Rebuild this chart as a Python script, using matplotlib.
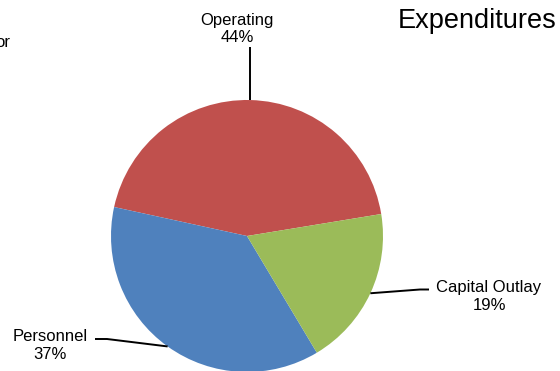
import matplotlib

matplotlib.use("Agg")
import matplotlib.pyplot as plt
import numpy as np

plt.rcParams["font.family"] = ["Liberation Sans", "DejaVu Sans"]

categories = ["Operating", "Personnel", "Capital Outlay"]
shares = [44, 37, 19]
colors = ["#C0504D", "#4F81BD", "#9BBB59"]

W, H = 560, 371
fig = plt.figure(figsize=(W / 100, H / 100), dpi=100)
ax = fig.add_axes([0, 0, 1, 1])

cx, cy, r = 247, H - 236, 136
wedges, _ = ax.pie(shares, colors=colors, startangle=9.3, counterclock=True,
                   center=(cx, cy), radius=r, frame=True,
                   wedgeprops=dict(linewidth=0))
ax.set_xlim(0, W)
ax.set_ylim(0, H)
ax.set_aspect("equal")
ax.axis("off")

# label placement in pixel units from the top-left: text centre x,
# baselines of the two lines, and the bends of the leader line
label_pos = {
    "Operating": dict(x=237, base=(25, 42), path=[(250, 47)]),
    "Capital Outlay": dict(x=489, base=(292, 310),
                           path=[(420, 289.5), (429, 289.5)]),
    "Personnel": dict(x=50, base=(341, 359),
                      path=[(107, 339), (95, 339)]),
}

for w, name, val in zip(wedges, categories, shares):
    mid = np.deg2rad((w.theta1 + w.theta2) / 2)
    ex, ey = cx + r * np.cos(mid), cy + r * np.sin(mid)
    lp = label_pos[name]
    pts = [(ex, ey)] + [(px, H - py) for px, py in lp["path"]]
    if name == "Operating":
        pts[0] = (lp["path"][0][0], ey)
    xs, ys = zip(*pts)
    ax.plot(xs, ys, color="black", lw=1.4, solid_capstyle="butt", clip_on=False)
    ax.text(lp["x"], H - lp["base"][0], name, ha="center", va="baseline",
            fontsize=12)
    ax.text(lp["x"], H - lp["base"][1], f"{val}%", ha="center", va="baseline",
            fontsize=12)

ax.text(557, H - 28, "Expenditures", ha="right", va="baseline", fontsize=19.5)
ax.text(10, H - 47, "or", ha="right", va="baseline", fontsize=12)

fig.savefig("out.png", dpi=100)
